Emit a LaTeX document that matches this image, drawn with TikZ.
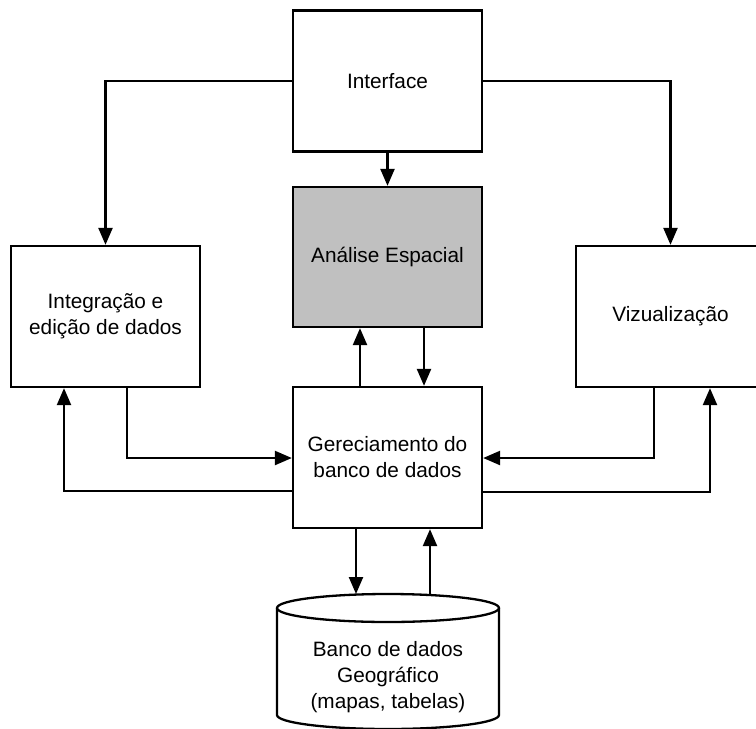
\documentclass[tikz,border=0pt]{standalone}
\usepackage{fontspec}
\setmainfont{Liberation Sans}
\usetikzlibrary{arrows.meta}
\definecolor{boxgray}{HTML}{C0C0C0}
\tikzset{
  blk/.style={draw=black, line width=2.3pt, fill=white, minimum width=189pt, minimum height=141pt, inner sep=0pt, align=center, font=\fontsize{20.8}{26}\selectfont},
  conn/.style={draw=black, line width=2.3pt, -{Triangle[length=17pt, width=14pt]}},
  plain/.style={draw=black, line width=2.3pt},
}
\begin{document}
\begin{tikzpicture}[x=1pt, y=-1pt]
\useasboundingbox (0,0) rectangle (756,729);
\fill[white] (0,0) rectangle (756,729);
% boxes
\node[blk] (iface) at (387.5,81) {Interface};
\node[blk, fill=boxgray, minimum height=140pt] (anal) at (387.5,257) {Análise Espacial};
\node[blk] (ger) at (387.5,457.5) {Gereciamento do\\banco de dados};
\node[blk] (integ) at (105.5,316.5) {Integração e\\edição de dados};
\node[blk] (viz) at (670.5,316.5) {Vizualização};
% cylinder
\draw[plain, fill=white] (277,608) -- (277,715) arc[start angle=180, end angle=0, x radius=111, y radius=14] -- (499,608);
\draw[plain, fill=white] (388,608) ellipse[x radius=111, y radius=14];
\node[align=center, font=\fontsize{20.8}{26}\selectfont, inner sep=0pt] (db) at (388,677) {Banco de dados\\Geográfico\\(mapas, tabelas)};
\coordinate (cylA) at (356,594);
\coordinate (cylB) at (430,594);
% connectors
\draw[conn] (iface.west |- 0,81) -| (integ.north -| 105.5,0);
\draw[conn] (iface.east |- 0,81) -| (viz.north -| 670.5,0);
\draw[conn] (iface.south) -- (anal.north);
\draw[conn] (ger.north -| 360,0) -- (anal.south -| 360,0);
\draw[conn] (anal.south -| 424,0) -- (ger.north -| 424,0);
\draw[conn] (integ.south -| 127,0) |- (ger.west |- 0,458);
\draw[conn] (ger.west |- 0,491) -| (integ.south -| 64,0);
\draw[conn] (viz.south -| 654,0) |- (ger.east |- 0,458);
\draw[conn] (ger.east |- 0,492) -| (viz.south -| 710,0);
\draw[conn] (ger.south -| cylA) -- (cylA);
\draw[conn] (cylB) -- (ger.south -| cylB);
\end{tikzpicture}
\end{document}
